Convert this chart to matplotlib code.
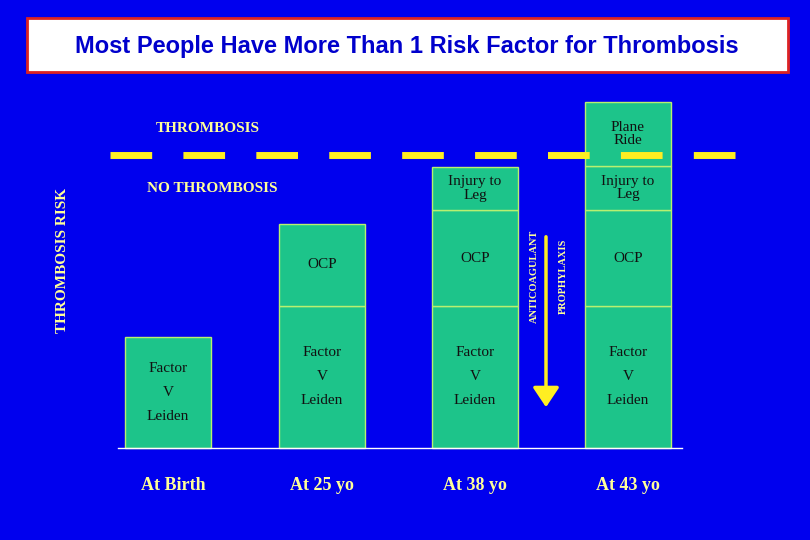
import matplotlib
matplotlib.use("Agg")
import matplotlib.pyplot as plt
from matplotlib.patches import Rectangle, FancyArrowPatch

categories = ["At Birth", "At 25 yo", "At 38 yo", "At 43 yo"]
fvl = [1.11, 1.42, 1.42, 1.42]
ocp = [0.0, 0.82, 0.96, 0.96]
injury = [0.0, 0.0, 0.43, 0.44]
plane = [0.0, 0.0, 0.0, 0.64]
threshold = 2.93

BG = "#0000EE"; GREEN = "#1DC48A"; EDGE = "#B8F070"
serif = ["Liberation Serif", "DejaVu Serif"]

fig = plt.figure(figsize=(8.1, 5.4), dpi=100, facecolor=BG)
ax = fig.add_axes([0, 0, 1, 1], facecolor=BG)
ax.set_xlim(0, 810); ax.set_ylim(-0.92, 4.48)
ax.axis("off")

xs = [168, 322, 475, 628]
w = 86
segs = [(fvl, "Factor\n\nV\n\nLeiden"), (ocp, "OCP"), (injury, "Injury to\nLeg"), (plane, "Plane\nRide")]
for i, x in enumerate(xs):
    bottom = 0
    for vals, lab in segs:
        v = vals[i]
        if v <= 0:
            continue
        ax.bar(x, v, width=w, bottom=bottom, color=GREEN, edgecolor=EDGE, linewidth=1)
        ax.text(x, bottom + v / 2, lab, ha="center", va="center", fontsize=11,
                family=serif, color="#111111", linespacing=1.0 if lab != segs[0][1] else 0.9)
        bottom += v
    ax.text(x + (0 if i else 5), -0.37, categories[i], ha="center", va="center",
            fontsize=13, family=serif, color="#FFFF99", fontweight="bold")

ax.plot([118, 682], [0, 0], color="white", lw=1)
ax.plot([110, 735], [threshold, threshold], color="#FFEE22", lw=5, dashes=(6, 4.5))
ax.text(208, 3.19, "THROMBOSIS", ha="center", va="center", fontsize=11, family=serif,
        color="#FFFF99", fontweight="bold")
ax.text(212, 2.6, "NO THROMBOSIS", ha="center", va="center", fontsize=11, family=serif,
        color="#FFFF99", fontweight="bold")
ax.text(62, 1.88, "THROMBOSIS RISK", rotation=90, ha="center", va="center", fontsize=11,
        family=serif, color="#FFFF99", fontweight="bold")
ax.text(534, 1.72, "ANTICOAGULANT", rotation=90, ha="center", va="center", fontsize=7.5,
        family=serif, color="#FFFF99", fontweight="bold")
ax.text(563, 1.72, "PROPHYLAXIS", rotation=90, ha="center", va="center", fontsize=7.5,
        family=serif, color="#FFFF99", fontweight="bold")
ax.add_patch(FancyArrowPatch((546, 2.14), (546, 0.38), arrowstyle="-|>,head_length=6,head_width=4",
                             color="#FFEE22", lw=2.5, mutation_scale=2))

ax.add_patch(Rectangle((27, (448 - 72) / 100), 761, 0.54, facecolor="white",
                       edgecolor="#DD2222", lw=2))
ax.text(407, (448 - 46) / 100, "Most People Have More Than 1 Risk Factor for Thrombosis",
        ha="center", va="center", fontsize=17, fontweight="bold",
        family=["Liberation Sans", "DejaVu Sans"], color="#0000CC")

fig.savefig("out.png", dpi=100, facecolor=BG)
